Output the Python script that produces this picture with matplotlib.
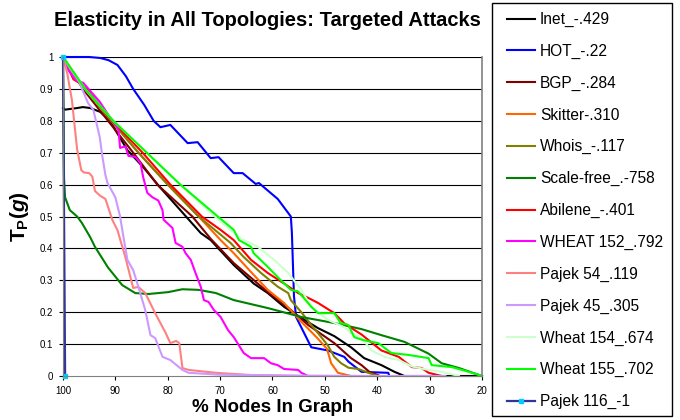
import matplotlib
matplotlib.use('Agg')
import matplotlib.pyplot as plt
from matplotlib.patches import Rectangle

plt.rcParams['font.family'] = ['Liberation Sans', 'DejaVu Sans']
plt.rcParams['mathtext.fontset'] = 'custom'
plt.rcParams['mathtext.rm'] = 'Liberation Sans:bold'
plt.rcParams['mathtext.it'] = 'Liberation Sans:bold:italic'

# ---- data (x = % nodes in graph, y = Tp(g))
inet_x = [100, 99.6, 97.3, 96.2, 94.8, 92.9, 91.0, 89.6, 87.7, 84.7, 81.4, 77.6, 73.7, 71.8, 67.4,
          63.6, 60.9, 57.8, 54.5, 51.3, 48.2, 45.0, 42.5, 39.2, 36.7, 34.8, 20]
inet_y = [0.84, 0.835, 0.84, 0.843, 0.84, 0.828, 0.80, 0.76, 0.708, 0.655, 0.59, 0.52, 0.448, 0.426,
          0.348, 0.29, 0.26, 0.217, 0.182, 0.15, 0.125, 0.09, 0.056, 0.034, 0.013, 0.0, 0.0]

hot_x = [100, 95, 92.9, 91.3, 89.6, 88.0, 86.6, 84.5, 82.7, 81.4, 79.5, 76.2, 74.3, 71.8, 70.3, 67.4,
         65.7, 63.2, 62.6, 59.0, 56.5, 56.3, 56.1, 55.9, 55.5, 52.6, 49.4, 46.3, 45.5, 43.0, 37.9, 37.7]
hot_y = [1.0, 1.0, 0.997, 0.99, 0.975, 0.94, 0.90, 0.85, 0.80, 0.78, 0.787, 0.73, 0.733, 0.683, 0.686,
         0.636, 0.636, 0.602, 0.605, 0.555, 0.50, 0.45, 0.35, 0.25, 0.185, 0.09, 0.08, 0.06, 0.045,
         0.013, 0.01, 0.0]

bgp_x = [100, 96.2, 91.4, 86.6, 82, 75.3, 71.8, 67.4, 60.9, 56.5, 53.2, 48.2, 45.0, 43.0, 41.5, 39.5]
bgp_y = [1, 0.9, 0.8, 0.7, 0.6, 0.5, 0.43, 0.354, 0.263, 0.207, 0.16, 0.103, 0.056, 0.034, 0.013, 0.0]

skitter_x = [100, 95.8, 90.8, 85.6, 80, 74.1, 69.9, 67.4, 64.1, 60.9, 57.8, 54.5, 51.5, 49.6, 48.8, 47.5, 45.0]
skitter_y = [1.0, 0.9, 0.8, 0.7, 0.6, 0.5, 0.426, 0.385, 0.326, 0.27, 0.229, 0.17, 0.12, 0.085, 0.04, 0.01, 0.0]

whois_x = [100, 95.8, 90.8, 85.6, 80, 74.1, 68.0, 65.5, 62.2, 59.0, 57.0, 56.5, 54.5, 52.6, 50.7, 49.4,
           48.2, 46.9, 45.5, 43.6, 41.7, 39.8]
whois_y = [1.0, 0.9, 0.8, 0.7, 0.6, 0.5, 0.417, 0.373, 0.323, 0.28, 0.26, 0.238, 0.20, 0.16, 0.122, 0.095,
           0.06, 0.04, 0.026, 0.022, 0.01, 0.0]

scalefree_x = [100, 99.8, 99.6, 98.7, 97.3, 96.4, 94.8, 93.9, 91.4, 88.7, 86.2, 83.7, 79.9, 77.2, 74.1,
               70.8, 67.4, 60.9, 54.5, 48.2, 43.0, 39.2, 34.8, 30.2, 27.7, 24.4, 20.0]
scalefree_y = [1.0, 0.62, 0.56, 0.52, 0.50, 0.48, 0.435, 0.405, 0.34, 0.285, 0.26, 0.257, 0.263, 0.272,
               0.27, 0.26, 0.238, 0.213, 0.185, 0.166, 0.147, 0.128, 0.107, 0.07, 0.04, 0.025, 0.0]

abilene_x = [100, 98.0, 97.0, 95.5, 90.6, 84.8, 79.5, 73.5, 69.9, 67.4, 64.1, 60.9, 57.8, 55.1, 53.2,
             51.3, 48.2, 46.3, 43.0, 39.2, 35.9, 33.4, 31.5, 30.2, 27.7]
abilene_y = [1.0, 0.93, 0.92, 0.9, 0.8, 0.7, 0.6, 0.5, 0.458, 0.426, 0.364, 0.323, 0.29, 0.26, 0.245,
             0.229, 0.197, 0.165, 0.13, 0.08, 0.06, 0.028, 0.025, 0.01, 0.0]

wheat152_x = [100, 99.0, 97.7, 96.7, 96.2, 93, 91.0, 90.0, 89.4, 89.1, 88.1, 87.5, 86.2, 85.2, 84.7, 83.9,
              82.9, 81.8, 81.0, 80.8, 79.1, 78.5, 77.2, 76.6, 75.6, 74.7, 73.7, 73.1, 72.2, 71.2, 69.9,
              68.5, 67.4, 65.5, 64.1, 61.6, 60.3, 59.0, 57.8, 55.1, 54.5, 53.2, 40]
wheat152_y = [1.0, 0.96, 0.93, 0.92, 0.92, 0.86, 0.81, 0.79, 0.77, 0.715, 0.72, 0.69, 0.687, 0.667, 0.624,
              0.574, 0.56, 0.55, 0.52, 0.49, 0.464, 0.417, 0.405, 0.385, 0.364, 0.323, 0.28, 0.238, 0.232,
              0.207, 0.185, 0.144, 0.122, 0.072, 0.056, 0.056, 0.04, 0.034, 0.022, 0.019, 0.01, 0.0, 0.0]

pajek54_x = [100, 99.2, 98.3, 97.3, 96.5, 96.0, 95.0, 94.4, 93.9, 92.9, 91.9, 91.2, 90.6, 89.6, 88.1,
             86.6, 85.6, 84.3, 82.4, 80.4, 79.5, 78.4, 77.8, 77.2, 76.0, 70.8, 64.0, 55]
pajek54_y = [1.0, 0.95, 0.865, 0.71, 0.645, 0.638, 0.636, 0.625, 0.58, 0.565, 0.555, 0.52, 0.49, 0.457,
             0.373, 0.276, 0.279, 0.26, 0.197, 0.135, 0.103, 0.11, 0.103, 0.025, 0.019, 0.01, 0.003, 0.0]

pajek45_x = [100, 98.5, 97.0, 95.2, 94.2, 93.0, 92.5, 91.9, 91.5, 90.0, 89.1, 88.5, 87.7, 86.6, 85.6,
             84.3, 83.3, 82.4, 81.0, 79.5, 77.2, 76.0, 70, 60, 45, 27]
pajek45_y = [1.0, 0.96, 0.925, 0.855, 0.834, 0.75, 0.69, 0.63, 0.605, 0.56, 0.50, 0.44, 0.364, 0.332,
             0.279, 0.207, 0.128, 0.119, 0.06, 0.05, 0.019, 0.01, 0.004, 0.002, 0.0, 0.0]

wheat154_x = [100, 95.8, 90.4, 84, 77.6, 71, 66, 62.8, 59.7, 57.0, 54.5, 52.6, 49.4, 46.3, 45.0, 43.0,
              41.1, 38.6, 35.9, 33.4, 30.5, 27.7, 24.4]
wheat154_y = [1.0, 0.9, 0.8, 0.7, 0.6, 0.5, 0.43, 0.405, 0.364, 0.323, 0.27, 0.217, 0.176, 0.153, 0.135,
              0.12, 0.08, 0.06, 0.05, 0.03, 0.02, 0.013, 0.0]

wheat155_x = [100, 95.8, 90.4, 84, 77.6, 70.8, 67.4, 66.4, 64.1, 63.6, 60.9, 58.4, 56.5, 55.1, 52.6,
              51.3, 48.2, 47.0, 45.5, 44.4, 42.8, 39.8, 37.3, 34.0, 30.2, 29.6, 25.8, 22.5, 20]
wheat155_y = [1.0, 0.9, 0.8, 0.7, 0.6, 0.505, 0.458, 0.426, 0.405, 0.385, 0.342, 0.30, 0.27, 0.265,
              0.217, 0.197, 0.197, 0.166, 0.16, 0.122, 0.113, 0.103, 0.072, 0.066, 0.056, 0.034, 0.028,
              0.013, 0.0]

pajek116_x = [100, 99.6]
pajek116_y = [1.0, 0.0]

labels = ['Inet_-.429', 'HOT_-.22', 'BGP_-.284', 'Skitter-.310', 'Whois_-.117', 'Scale-free_.-758',
          'Abilene_-.401', 'WHEAT 152_.792', 'Pajek 54_.119', 'Pajek 45_.305', 'Wheat 154_.674',
          'Wheat 155_.702', 'Pajek 116_-1']
colors = ['#000000', '#0000FF', '#800000', '#FF6600', '#808000', '#008000', '#FF0000', '#FF00FF',
          '#FF8080', '#CC99FF', '#CCFFCC', '#00FF00', '#333399']

series = [(inet_x, inet_y), (hot_x, hot_y), (bgp_x, bgp_y), (skitter_x, skitter_y), (whois_x, whois_y),
          (scalefree_x, scalefree_y), (abilene_x, abilene_y), (wheat152_x, wheat152_y),
          (pajek54_x, pajek54_y), (pajek45_x, pajek45_y), (wheat154_x, wheat154_y),
          (wheat155_x, wheat155_y), (pajek116_x, pajek116_y)]

xticks = [100, 90, 80, 70, 60, 50, 40, 30, 20]
yticks = [0, 0.1, 0.2, 0.3, 0.4, 0.5, 0.6, 0.7, 0.8, 0.9, 1]

fig = plt.figure(figsize=(6.8, 4.2), dpi=100)
ax = fig.add_axes([63/680, 44/420, 419/680, 319/420])

for (x, y), lab, c in zip(series, labels, colors):
    if lab.startswith('Pajek 116'):
        ax.plot(x, y, color=c, lw=1.6, label=lab, marker='s', markersize=2.5,
                markerfacecolor='#00CCFF', markeredgecolor='#00CCFF', clip_on=False)
    else:
        ax.plot(x, y, color=c, lw=1.5, label=lab, clip_on=False)

ax.set_xlim(100, 20)
ax.set_ylim(0, 1)
ax.set_xticks(xticks)
ax.set_xticklabels([str(t) for t in xticks])
ax.set_yticks(yticks)
ax.set_yticklabels(['0', '0.1', '0.2', '0.3', '0.4', '0.5', '0.6', '0.7', '0.8', '0.9', '1'])
ax.tick_params(labelsize=7, length=3, width=0.8, colors='black', pad=4)
for t in yticks[1:]:
    ax.axhline(t, color='black', lw=0.8, zorder=0)
ax.spines['top'].set_visible(False)
ax.spines['right'].set_color('#808080')
ax.spines['right'].set_linewidth(1.2)
ax.spines['left'].set_color('#808080')
ax.spines['bottom'].set_color('#808080')

fig.text(0.393, 0.952, 'Elasticity in All Topologies: Targeted Attacks', ha='center', va='center',
         fontsize=14.5, fontweight='bold')
ax.set_xlabel('% Nodes In Graph', fontsize=13.5, fontweight='bold', labelpad=2)
ax.set_ylabel(r'$\mathrm{T}_{\mathrm{P}}\mathrm{(}g\mathrm{)}$', fontsize=15, labelpad=6)

# legend box drawn separately so the entries can sit where the original has them
fig.patches.append(Rectangle((492/680, 4/420), 180/680, 413/420, transform=fig.transFigure,
                             facecolor='white', edgecolor='black', lw=1.0, zorder=0))
leg = fig.legend(loc='upper left', bbox_to_anchor=(507/680, (420 - 12)/420), fontsize=11.2,
                 frameon=False, labelspacing=1.075, handlelength=1.8, handletextpad=0.32,
                 borderpad=0, borderaxespad=0, numpoints=1)

fig.savefig('out.png', dpi=100)
